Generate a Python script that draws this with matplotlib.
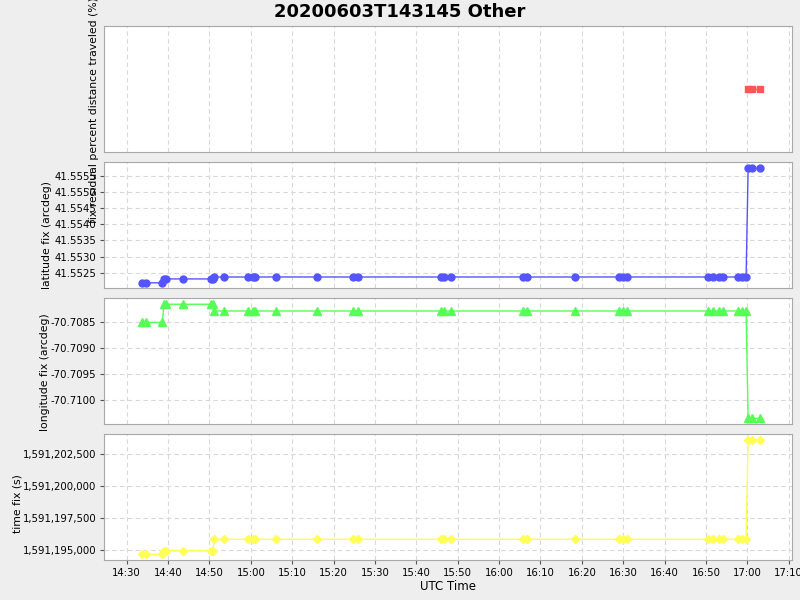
import datetime as dt
import matplotlib
matplotlib.use("Agg")
import matplotlib.pyplot as plt
import matplotlib.dates as mdates
import matplotlib.ticker as mticker

# fix times (UTC, 2020-06-03)
times = ["14:33:36", "14:34:36", "14:38:36", "14:39:00", "14:39:30", "14:43:30",
         "14:50:24", "14:50:48", "14:51:12", "14:53:24", "14:59:12", "15:00:24",
         "15:01:00", "15:06:06", "15:16:00", "15:24:48", "15:26:00", "15:45:54",
         "15:46:48", "15:48:21", "16:05:42", "16:06:48", "16:18:24", "16:29:06",
         "16:30:00", "16:31:00", "16:50:36", "16:51:48", "16:53:12", "16:54:12",
         "16:57:48", "16:58:36", "16:59:42", "17:00:12", "17:01:12", "17:03:00"]

latitude = [41.55219, 41.55219, 41.55219, 41.55231, 41.55231, 41.55231,
            41.55231, 41.55231, 41.55237, 41.55237, 41.55237, 41.55237,
            41.55237, 41.55237, 41.55237, 41.55237, 41.55237, 41.55237,
            41.55237, 41.55237, 41.55237, 41.55237, 41.55237, 41.55237,
            41.55237, 41.55237, 41.55237, 41.55237, 41.55237, 41.55237,
            41.55237, 41.55237, 41.55237, 41.55573, 41.55573, 41.55573]

longitude = [-70.70851, -70.70851, -70.70851, -70.70816, -70.70816, -70.70816,
             -70.70816, -70.70816, -70.70829, -70.70829, -70.70829, -70.70829,
             -70.70829, -70.70829, -70.70829, -70.70829, -70.70829, -70.70829,
             -70.70829, -70.70829, -70.70829, -70.70829, -70.70829, -70.70829,
             -70.70829, -70.70829, -70.70829, -70.70829, -70.70829, -70.70829,
             -70.70829, -70.70829, -70.70829, -70.71036, -70.71036, -70.71036]

time_fix = [1591194660, 1591194660, 1591194660, 1591194950, 1591194950, 1591194950,
            1591194950, 1591194950, 1591195840, 1591195840, 1591195840, 1591195840,
            1591195840, 1591195840, 1591195840, 1591195840, 1591195840, 1591195840,
            1591195840, 1591195840, 1591195840, 1591195840, 1591195840, 1591195840,
            1591195840, 1591195840, 1591195840, 1591195840, 1591195840, 1591195840,
            1591195840, 1591195840, 1591195840, 1591203620, 1591203620, 1591203620]

# residual only exists for the last three fixes
resid_times = ["17:00:12", "17:01:12", "17:03:00"]
resid_pct = [2.0, 2.0, 2.0]

day = "2020-06-03 "
def to_dt(s):
    return dt.datetime.strptime(day + s, "%Y-%m-%d %H:%M:%S")

t = [to_dt(s) for s in times]
tr = [to_dt(s) for s in resid_times]

grid_col = "#d8d8d8"
spine_col = "#a8a8a8"

fig = plt.figure(figsize=(8, 6), dpi=100, facecolor="#eeeeee")
left, width, h = 0.13, 0.86, 0.21
bottoms = [0.7467, 0.52, 0.2933, 0.0667]
axes = [fig.add_axes([left, b, width, h]) for b in bottoms]

for ax in axes:
    ax.set_facecolor("white")
    for sp in ax.spines.values():
        sp.set_color(spine_col)
    ax.grid(True, color=grid_col, linestyle=(0, (4, 3)), linewidth=0.8)
    ax.tick_params(colors="#555555", labelcolor="black", labelsize=7.3, length=3, pad=2.5)
    ax.set_xlim(to_dt("14:24:30"), to_dt("17:10:48"))
    ax.xaxis.set_major_locator(mdates.MinuteLocator(byminute=range(0, 60, 10)))
    ax.xaxis.set_major_formatter(mdates.DateFormatter("%H:%M"))

for ax in axes[:3]:
    ax.tick_params(axis="x", labelbottom=False, length=0)

lab = dict(fontsize=7.8)

# top panel
ax = axes[0]
ax.plot(tr, resid_pct, color="#ff5555", marker="s", markersize=5, linewidth=1)
ax.set_ylim(1.0, 3.0)
ax.set_yticks([])
ax.grid(False, axis="y")
ax.set_ylabel("fix residual percent distance traveled (%)", **lab)
ax.yaxis.set_label_coords(-0.007, 0.33)

# latitude
ax = axes[1]
ax.plot(t, latitude, color="#5555ff", marker="o", markersize=5, linewidth=1)
ax.set_ylim(41.55203, 41.55592)
ax.yaxis.set_major_locator(mticker.MultipleLocator(0.0005))
ax.yaxis.set_major_formatter(mticker.FormatStrFormatter("%.4f"))
ax.set_ylabel("latitude fix (arcdeg)", **lab)
ax.yaxis.set_label_coords(-0.076, 0.42)

# longitude
ax = axes[2]
ax.plot(t, longitude, color="#55ff55", marker="^", markersize=5.5, linewidth=1)
ax.set_ylim(-70.71047, -70.70804)
ax.yaxis.set_major_locator(mticker.MultipleLocator(0.0005))
ax.yaxis.set_major_formatter(mticker.FormatStrFormatter("%.4f"))
ax.set_ylabel("longitude fix (arcdeg)", **lab)
ax.yaxis.set_label_coords(-0.079, 0.41)

# time fix
ax = axes[3]
ax.plot(t, time_fix, color="#ffff55", marker="D", markersize=4.5, linewidth=1)
ax.set_ylim(1591194216, 1591204094)
ax.yaxis.set_major_locator(mticker.MultipleLocator(2500))
ax.yaxis.set_major_formatter(mticker.FuncFormatter(lambda v, p: f"{int(round(v)):,}"))
ax.set_ylabel("time fix (s)", **lab)
ax.yaxis.set_label_coords(-0.118, 0.45)
ax.set_xlabel("UTC Time", fontsize=8.5, labelpad=2)

fig.suptitle("20200603T143145 Other", fontsize=13, fontweight="bold", y=0.995)

fig.savefig("out.png", dpi=100, facecolor=fig.get_facecolor())
